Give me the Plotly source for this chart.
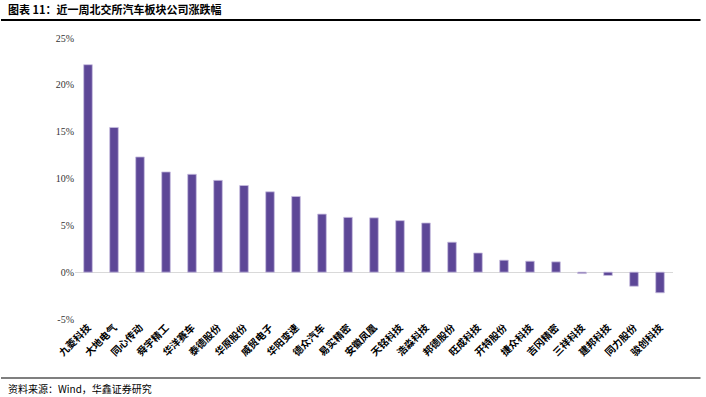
import plotly.graph_objects as go

companies = ["九菱科技", "大地电气", "同心传动", "舜宇精工", "华洋赛车", "泰德股份", "华原股份",
             "威贸电子", "华阳变速", "德众汽车", "易实精密", "安徽凤凰", "天铭科技", "浩淼科技",
             "邦德股份", "旺成科技", "开特股份", "捷众科技", "吉冈精密", "三祥科技", "建邦科技",
             "同力股份", "骏创科技"]
changes = [22.15, 15.45, 12.3, 10.7, 10.45, 9.8, 9.25, 8.58, 8.08, 6.2, 5.85, 5.8, 5.5, 5.25,
           3.2, 2.05, 1.28, 1.17, 1.1, -0.15, -0.35, -1.5, -2.2]
tick_values = [-5, 0, 5, 10, 15, 20, 25]
tick_labels = ["-5%", "0%", "5%", "10%", "15%", "20%", "25%"]

title_text = "图表 11：近一周北交所汽车板块公司涨跌幅"
source_text = "资料来源：Wind，华鑫证券研究"

fig = go.Figure(go.Bar(
    x=companies, y=changes,
    marker=dict(color="#5D4797", line=dict(color="#C8BEE0", width=0.8)),
))

L, R, T, B = 75, 33, 38, 78
W, H = 706, 397
pw, ph = W - L - R, H - T - B

def px_x(x):
    return (x - L) / pw

def px_y(y):
    return (H - B - y) / ph

def rule(y, width):
    return dict(text="", xref="paper", yref="paper", x=px_x(0), y=px_y(y),
                ax=702, ay=0, axref="pixel", ayref="pixel",
                showarrow=True, arrowhead=0, arrowwidth=width, arrowcolor="#000000",
                standoff=0, startstandoff=0)

fig.update_layout(
    width=W, height=H,
    margin=dict(l=L, r=R, t=T, b=B, autoexpand=False),
    plot_bgcolor="white", paper_bgcolor="white",
    bargap=0.67,
    showlegend=False,
    xaxis=dict(
        tickangle=-45, automargin=False,
        tickfont=dict(family="Noto Sans CJK SC", size=10, color="#000000", weight="bold"),
        showline=False, showgrid=False, ticks="",
    ),
    yaxis=dict(
        range=[-5, 25], tickvals=tick_values, ticktext=tick_labels, automargin=False,
        tickfont=dict(family="Liberation Serif", size=10, color="#333333"),
        showgrid=False, zeroline=True, zerolinecolor="#D9D9D9", zerolinewidth=1,
        showline=False, ticks="",
    ),
    annotations=[
        dict(text=title_text, xref="paper", yref="paper", x=px_x(6), y=px_y(9),
             xanchor="left", yanchor="middle", showarrow=False,
             font=dict(family="Noto Sans CJK SC", size=11, color="#000000", weight="bold")),
        dict(text=source_text, xref="paper", yref="paper", x=px_x(6), y=px_y(388),
             xanchor="left", yanchor="middle", showarrow=False,
             font=dict(family="Noto Sans CJK SC", size=10, color="#000000")),
        rule(20, 2),
        rule(378, 1.2),
    ],
)

fig.write_html("out.html", config={"displayModeBar": False},
               post_script="document.body.style.margin='0';")
